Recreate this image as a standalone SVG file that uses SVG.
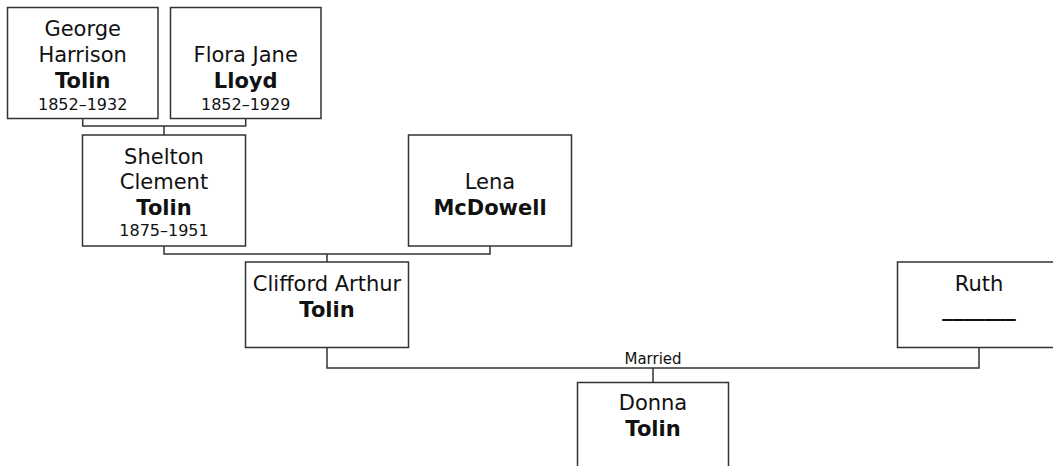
<svg xmlns="http://www.w3.org/2000/svg" width="1053" height="466" viewBox="0 0 1053 466">
<style>
.box{fill:#fff;stroke:#333;stroke-width:1.5}
.c{fill:none;stroke:#333;stroke-width:1.5}
text{font-family:"DejaVu Sans","Verdana",sans-serif;fill:#111;text-anchor:middle}
.n{font-size:21px}
.b{font-size:21px;font-weight:bold}
.d{font-size:16px}
.m{font-size:15px}
</style>
<rect width="1053" height="466" fill="#fff"/>
<g id="connectors">
<path class="c" d="M82.7,118.5V126H245.7V118.5M164,126V135"/>
<path class="c" d="M164,246V254H490V246M327,254V262"/>
<path class="c" d="M327,347.5V368H979V347.5M653,368V382.5"/>
<text class="m" x="653" y="364">Married</text>
</g>
<g id="george">
<rect class="box" x="7.5" y="7.5" width="150.5" height="111"/>
<text class="n" x="82.7" y="36">George</text>
<text class="n" x="82.7" y="62">Harrison</text>
<text class="b" x="82.7" y="87.5">Tolin</text>
<text class="d" x="82.7" y="109.5">1852–1932</text>
</g>
<g id="flora">
<rect class="box" x="170.5" y="7.5" width="150.5" height="111"/>
<text class="n" x="245.7" y="62">Flora Jane</text>
<text class="b" x="245.7" y="87.5">Lloyd</text>
<text class="d" x="245.7" y="109.5">1852–1929</text>
</g>
<g id="shelton">
<rect class="box" x="82.5" y="135" width="163" height="111"/>
<text class="n" x="164" y="163.5">Shelton</text>
<text class="n" x="164" y="189">Clement</text>
<text class="b" x="164" y="215">Tolin</text>
<text class="d" x="164" y="236">1875–1951</text>
</g>
<g id="lena">
<rect class="box" x="408.5" y="135" width="163" height="111"/>
<text class="n" x="490" y="189">Lena</text>
<text class="b" x="490" y="215">McDowell</text>
</g>
<g id="clifford">
<rect class="box" x="245.5" y="262" width="163" height="85.5"/>
<text class="n" x="327" y="290.5">Clifford Arthur</text>
<text class="b" x="327" y="316.5">Tolin</text>
</g>
<g id="ruth">
<rect class="box" x="897.5" y="262" width="163" height="85.5"/>
<text class="n" x="979" y="290.5">Ruth</text>
<text class="b" x="979" y="316">_______</text>
</g>
<g id="donna">
<rect class="box" x="577.5" y="382.5" width="151" height="100"/>
<text class="n" x="653" y="410">Donna</text>
<text class="b" x="653" y="436">Tolin</text>
</g>
</svg>
